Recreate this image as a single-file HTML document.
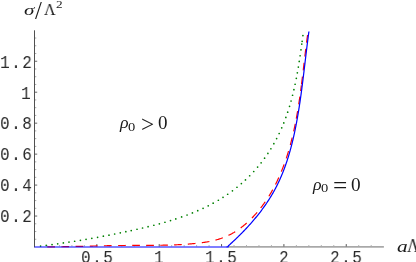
<!DOCTYPE html>
<html><head><meta charset="utf-8"><title>plot</title>
<style>
html,body{margin:0;padding:0;background:#fff;}
body{width:416px;height:262px;overflow:hidden;position:relative;}
.m{will-change:transform;position:absolute;font-family:"Liberation Mono",monospace;font-size:18.0px;letter-spacing:1.67px;line-height:1;color:#2a2a2a;white-space:pre;transform:scaleX(0.89);transform-origin:0 0;}
.g{will-change:transform;position:absolute;font-family:"Liberation Serif",serif;line-height:1;white-space:pre;transform-origin:0 0;color:#1a1a1a;}
#c{position:absolute;left:0;top:0;width:416px;height:262px;overflow:hidden;background:#fff;}
</style></head><body>
<div id="c">
<svg width="416" height="262" viewBox="0 0 416 262" style="position:absolute;left:0;top:0">
<rect x="34" y="30.3" width="1" height="217.10" fill="#505050"/>
<rect x="228" y="246.25" width="155.90" height="1.3" fill="#8c8c8c"/>
<rect x="35" y="238.76" width="1.3" height="1" fill="#aaa"/>
<rect x="35" y="231.02" width="1.3" height="1" fill="#aaa"/>
<rect x="35" y="223.28" width="1.3" height="1" fill="#aaa"/>
<rect x="35" y="215.54" width="2.2" height="1" fill="#666"/>
<rect x="35" y="207.80" width="1.3" height="1" fill="#aaa"/>
<rect x="35" y="200.06" width="1.3" height="1" fill="#aaa"/>
<rect x="35" y="192.32" width="1.3" height="1" fill="#aaa"/>
<rect x="35" y="184.58" width="2.2" height="1" fill="#666"/>
<rect x="35" y="176.84" width="1.3" height="1" fill="#aaa"/>
<rect x="35" y="169.10" width="1.3" height="1" fill="#aaa"/>
<rect x="35" y="161.36" width="1.3" height="1" fill="#aaa"/>
<rect x="35" y="153.62" width="2.2" height="1" fill="#666"/>
<rect x="35" y="145.88" width="1.3" height="1" fill="#aaa"/>
<rect x="35" y="138.14" width="1.3" height="1" fill="#aaa"/>
<rect x="35" y="130.40" width="1.3" height="1" fill="#aaa"/>
<rect x="35" y="122.66" width="2.2" height="1" fill="#666"/>
<rect x="35" y="114.92" width="1.3" height="1" fill="#aaa"/>
<rect x="35" y="107.18" width="1.3" height="1" fill="#aaa"/>
<rect x="35" y="99.44" width="1.3" height="1" fill="#aaa"/>
<rect x="35" y="91.70" width="2.2" height="1" fill="#666"/>
<rect x="35" y="83.96" width="1.3" height="1" fill="#aaa"/>
<rect x="35" y="76.22" width="1.3" height="1" fill="#aaa"/>
<rect x="35" y="68.48" width="1.3" height="1" fill="#aaa"/>
<rect x="35" y="60.74" width="2.2" height="1" fill="#666"/>
<rect x="35" y="53.00" width="1.3" height="1" fill="#aaa"/>
<rect x="35" y="45.26" width="1.3" height="1" fill="#aaa"/>
<rect x="35" y="37.52" width="1.3" height="1" fill="#aaa"/>
<rect x="46.47" y="245.10" width="1" height="1.3" fill="#aaa"/>
<rect x="58.94" y="245.10" width="1" height="1.3" fill="#aaa"/>
<rect x="71.41" y="245.10" width="1" height="1.3" fill="#aaa"/>
<rect x="83.88" y="245.10" width="1" height="1.3" fill="#aaa"/>
<rect x="96.35" y="244.10" width="1" height="2.4" fill="#555"/>
<rect x="108.82" y="245.10" width="1" height="1.3" fill="#aaa"/>
<rect x="121.29" y="245.10" width="1" height="1.3" fill="#aaa"/>
<rect x="133.76" y="245.10" width="1" height="1.3" fill="#aaa"/>
<rect x="146.23" y="245.10" width="1" height="1.3" fill="#aaa"/>
<rect x="158.70" y="244.10" width="1" height="2.4" fill="#555"/>
<rect x="171.17" y="245.10" width="1" height="1.3" fill="#aaa"/>
<rect x="183.64" y="245.10" width="1" height="1.3" fill="#aaa"/>
<rect x="196.11" y="245.10" width="1" height="1.3" fill="#aaa"/>
<rect x="208.58" y="245.10" width="1" height="1.3" fill="#aaa"/>
<rect x="221.05" y="244.10" width="1" height="2.4" fill="#555"/>
<rect x="233.52" y="245.10" width="1" height="1.3" fill="#aaa"/>
<rect x="245.99" y="245.10" width="1" height="1.3" fill="#aaa"/>
<rect x="258.46" y="245.10" width="1" height="1.3" fill="#aaa"/>
<rect x="270.93" y="245.10" width="1" height="1.3" fill="#aaa"/>
<rect x="283.40" y="244.10" width="1" height="2.4" fill="#555"/>
<rect x="295.87" y="245.10" width="1" height="1.3" fill="#aaa"/>
<rect x="308.34" y="245.10" width="1" height="1.3" fill="#aaa"/>
<rect x="320.81" y="245.10" width="1" height="1.3" fill="#aaa"/>
<rect x="333.28" y="245.10" width="1" height="1.3" fill="#aaa"/>
<rect x="345.75" y="244.10" width="1" height="2.4" fill="#555"/>
<rect x="358.22" y="245.10" width="1" height="1.3" fill="#aaa"/>
<rect x="370.69" y="245.10" width="1" height="1.3" fill="#aaa"/>
<circle cx="40.58" cy="246.09" r="0.85" fill="#008000"/>
<circle cx="46.25" cy="245.37" r="0.85" fill="#008000"/>
<circle cx="52.03" cy="244.59" r="0.85" fill="#008000"/>
<circle cx="57.69" cy="243.80" r="0.85" fill="#008000"/>
<circle cx="63.34" cy="242.97" r="0.85" fill="#008000"/>
<circle cx="68.99" cy="242.12" r="0.85" fill="#008000"/>
<circle cx="74.64" cy="241.23" r="0.85" fill="#008000"/>
<circle cx="80.41" cy="240.29" r="0.85" fill="#008000"/>
<circle cx="86.05" cy="239.34" r="0.85" fill="#008000"/>
<circle cx="91.81" cy="238.33" r="0.85" fill="#008000"/>
<circle cx="97.58" cy="237.29" r="0.85" fill="#008000"/>
<circle cx="103.35" cy="236.21" r="0.85" fill="#008000"/>
<circle cx="108.99" cy="235.13" r="0.85" fill="#008000"/>
<circle cx="114.64" cy="234.01" r="0.85" fill="#008000"/>
<circle cx="120.29" cy="232.86" r="0.85" fill="#008000"/>
<circle cx="125.82" cy="231.70" r="0.85" fill="#008000"/>
<circle cx="131.22" cy="230.53" r="0.85" fill="#008000"/>
<circle cx="137.01" cy="229.25" r="0.85" fill="#008000"/>
<circle cx="142.55" cy="227.99" r="0.85" fill="#008000"/>
<circle cx="148.08" cy="226.67" r="0.85" fill="#008000"/>
<circle cx="153.85" cy="225.23" r="0.85" fill="#008000"/>
<circle cx="159.35" cy="223.79" r="0.85" fill="#008000"/>
<circle cx="164.94" cy="222.23" r="0.85" fill="#008000"/>
<circle cx="170.51" cy="220.59" r="0.85" fill="#008000"/>
<circle cx="175.79" cy="218.94" r="0.85" fill="#008000"/>
<circle cx="181.63" cy="216.97" r="0.85" fill="#008000"/>
<circle cx="187.06" cy="215.01" r="0.85" fill="#008000"/>
<circle cx="192.42" cy="212.93" r="0.85" fill="#008000"/>
<circle cx="197.72" cy="210.72" r="0.85" fill="#008000"/>
<circle cx="203.06" cy="208.31" r="0.85" fill="#008000"/>
<circle cx="208.21" cy="205.80" r="0.85" fill="#008000"/>
<circle cx="213.16" cy="203.20" r="0.85" fill="#008000"/>
<circle cx="218.36" cy="200.24" r="0.85" fill="#008000"/>
<circle cx="223.01" cy="197.37" r="0.85" fill="#008000"/>
<circle cx="227.68" cy="194.25" r="0.85" fill="#008000"/>
<circle cx="232.44" cy="190.81" r="0.85" fill="#008000"/>
<circle cx="236.98" cy="187.27" r="0.85" fill="#008000"/>
<circle cx="241.38" cy="183.57" r="0.85" fill="#008000"/>
<circle cx="245.46" cy="179.88" r="0.85" fill="#008000"/>
<circle cx="249.68" cy="175.77" r="0.85" fill="#008000"/>
<circle cx="253.72" cy="171.52" r="0.85" fill="#008000"/>
<circle cx="257.60" cy="167.12" r="0.85" fill="#008000"/>
<circle cx="261.13" cy="162.78" r="0.85" fill="#008000"/>
<circle cx="264.57" cy="158.21" r="0.85" fill="#008000"/>
<circle cx="267.89" cy="153.42" r="0.85" fill="#008000"/>
<circle cx="270.89" cy="148.73" r="0.85" fill="#008000"/>
<circle cx="273.85" cy="143.71" r="0.85" fill="#008000"/>
<circle cx="276.63" cy="138.59" r="0.85" fill="#008000"/>
<circle cx="279.17" cy="133.48" r="0.85" fill="#008000"/>
<circle cx="281.74" cy="127.83" r="0.85" fill="#008000"/>
<circle cx="283.78" cy="122.90" r="0.85" fill="#008000"/>
<circle cx="285.86" cy="117.43" r="0.85" fill="#008000"/>
<circle cx="287.69" cy="112.13" r="0.85" fill="#008000"/>
<circle cx="289.54" cy="106.28" r="0.85" fill="#008000"/>
<circle cx="291.06" cy="100.98" r="0.85" fill="#008000"/>
<circle cx="292.56" cy="95.27" r="0.85" fill="#008000"/>
<circle cx="293.91" cy="89.64" r="0.85" fill="#008000"/>
<circle cx="295.10" cy="84.23" r="0.85" fill="#008000"/>
<circle cx="296.31" cy="78.28" r="0.85" fill="#008000"/>
<circle cx="297.33" cy="72.82" r="0.85" fill="#008000"/>
<circle cx="298.33" cy="67.09" r="0.85" fill="#008000"/>
<circle cx="299.24" cy="61.47" r="0.85" fill="#008000"/>
<circle cx="300.12" cy="55.73" r="0.85" fill="#008000"/>
<circle cx="300.97" cy="49.86" r="0.85" fill="#008000"/>
<circle cx="301.76" cy="44.12" r="0.85" fill="#008000"/>
<circle cx="302.14" cy="41.33" r="0.85" fill="#008000"/>
<circle cx="302.91" cy="35.62" r="0.85" fill="#008000"/>
<path d="M47.30,246.90 L48.00,246.90 L48.70,246.90 L49.40,246.89 L50.10,246.89 L50.80,246.88 L51.50,246.88 L52.20,246.87 L52.90,246.86 L53.60,246.86 L54.30,246.85 L55.00,246.84 M61.40,246.75 L62.10,246.74 L62.80,246.73 L63.50,246.71 L64.20,246.70 L64.90,246.69 L65.60,246.67 L66.30,246.66 L67.00,246.65 L67.70,246.63 L68.40,246.62 L69.10,246.60 M75.60,246.46 L76.30,246.44 L77.00,246.43 L77.70,246.41 L78.40,246.39 L79.10,246.38 L79.80,246.36 L80.50,246.34 L81.20,246.33 L81.90,246.31 L82.60,246.29 L83.30,246.27 M89.80,246.11 L90.50,246.09 L91.20,246.08 L91.90,246.06 L92.60,246.04 L93.30,246.03 L94.00,246.01 L94.70,245.99 L95.40,245.97 L96.10,245.96 L96.80,245.94 L97.50,245.92 M103.90,245.78 L104.60,245.77 L105.30,245.75 L106.00,245.74 L106.70,245.72 L107.40,245.71 L108.10,245.70 L108.80,245.68 L109.50,245.67 L110.20,245.66 L110.90,245.64 L111.60,245.63 M118.10,245.53 L118.80,245.53 L119.50,245.52 L120.20,245.51 L120.90,245.50 L121.60,245.50 L122.30,245.49 L123.00,245.48 L123.70,245.48 L124.40,245.47 L125.10,245.47 L125.80,245.46 M132.20,245.43 L132.90,245.43 L133.60,245.43 L134.30,245.43 L135.00,245.43 L135.70,245.42 L136.40,245.42 L137.10,245.42 L137.80,245.42 L138.50,245.42 L139.20,245.42 L139.90,245.41 M146.20,245.39 L146.90,245.39 L147.60,245.39 L148.30,245.38 L149.00,245.38 L149.70,245.37 L150.40,245.37 L151.10,245.37 L151.80,245.36 L152.50,245.35 L153.20,245.35 L153.90,245.34 M160.20,245.26 L160.90,245.25 L161.60,245.24 L162.30,245.22 L163.00,245.21 L163.70,245.19 L164.40,245.18 L165.10,245.16 L165.80,245.15 L166.50,245.13 L167.20,245.11 L167.90,245.09 M174.10,244.88 L174.80,244.85 L175.50,244.82 L176.20,244.79 L176.90,244.76 L177.60,244.73 L178.30,244.69 L178.99,244.66 L179.69,244.62 L180.39,244.58 L181.09,244.55 L181.79,244.51 M187.80,244.11 L188.50,244.06 L189.20,244.00 L189.89,243.95 L190.59,243.89 L191.29,243.83 L191.99,243.77 L192.68,243.71 L193.38,243.65 L194.08,243.58 L194.77,243.52 L195.47,243.45 M201.80,242.71 L202.49,242.61 L203.19,242.51 L203.88,242.41 L204.57,242.31 L205.26,242.20 L205.95,242.09 L206.64,241.97 L207.33,241.85 L208.02,241.72 L208.71,241.60 L209.40,241.46 M215.50,240.07 L216.18,239.89 L216.85,239.71 L217.52,239.51 L218.20,239.32 L218.87,239.11 L219.53,238.90 L220.20,238.69 L220.86,238.47 L221.53,238.24 L222.19,238.01 L222.84,237.77 M228.50,235.38 L229.13,235.07 L229.76,234.76 L230.38,234.44 L231.00,234.12 L231.62,233.78 L232.23,233.45 L232.84,233.10 L233.44,232.75 L234.05,232.40 L234.65,232.03 L235.24,231.67 M240.70,227.93 L241.26,227.50 L241.81,227.08 L242.37,226.65 L242.92,226.21 L243.46,225.77 L244.00,225.33 L244.54,224.88 L245.08,224.43 L245.61,223.98 L246.14,223.52 L246.66,223.06 M251.96,218.00 L252.45,217.50 L252.93,216.99 L253.41,216.48 L253.89,215.97 L254.36,215.46 L254.84,214.94 L255.31,214.42 L255.77,213.90 L256.24,213.38 L256.69,212.85 L257.15,212.32 M260.68,208.00 L261.11,207.45 L261.54,206.89 L261.96,206.33 L262.38,205.77 L262.80,205.21 L263.21,204.65 L263.62,204.08 L264.03,203.51 L264.44,202.94 L264.84,202.37 L265.24,201.79 M268.84,196.30 L269.21,195.70 L269.57,195.11 L269.94,194.51 L270.30,193.91 L270.65,193.31 L271.01,192.70 L271.36,192.10 L271.71,191.49 L272.05,190.88 L272.39,190.27 L272.73,189.66 M275.51,184.40 L275.83,183.77 L276.14,183.15 L276.45,182.52 L276.75,181.89 L277.06,181.26 L277.36,180.63 L277.66,179.99 L277.95,179.36 L278.25,178.72 L278.54,178.09 L278.83,177.45 M281.34,171.60 L281.60,170.95 L281.86,170.30 L282.12,169.65 L282.38,169.00 L282.64,168.35 L282.89,167.70 L283.14,167.04 L283.39,166.39 L283.63,165.73 L283.88,165.08 L284.12,164.42 M286.22,158.40 L286.45,157.74 L286.66,157.07 L286.88,156.41 L287.10,155.74 L287.31,155.07 L287.52,154.40 L287.73,153.74 L287.94,153.07 L288.14,152.40 L288.35,151.73 L288.55,151.06 M290.28,145.00 L290.47,144.32 L290.65,143.65 L290.83,142.97 L291.01,142.30 L291.19,141.62 L291.36,140.94 L291.53,140.26 L291.71,139.58 L291.88,138.91 L292.05,138.23 L292.21,137.55 M293.66,131.40 L293.81,130.72 L293.96,130.03 L294.11,129.35 L294.26,128.67 L294.40,127.98 L294.55,127.30 L294.69,126.61 L294.84,125.93 L294.98,125.24 L295.12,124.55 L295.26,123.87 M296.26,118.70 L296.39,118.01 L296.51,117.32 L296.64,116.63 L296.76,115.95 L296.89,115.26 L297.01,114.57 L297.13,113.88 L297.25,113.19 L297.37,112.50 L297.49,111.81 L297.61,111.12 M298.71,104.30 L298.82,103.61 L298.92,102.92 L299.03,102.22 L299.13,101.53 L299.24,100.84 L299.34,100.15 L299.44,99.45 L299.54,98.76 L299.64,98.07 L299.74,97.38 L299.84,96.68 M300.63,91.00 L300.70,90.50 L300.76,89.99 L300.83,89.49 L300.90,88.98 L300.96,88.48 L301.03,87.97 L301.10,87.47 L301.16,86.96 L301.23,86.46 L301.29,85.95 L301.36,85.45 M301.50,84.30 L301.59,83.61 L301.68,82.91 L301.77,82.22 L301.85,81.52 L301.94,80.83 L302.03,80.13 L302.11,79.44 L302.20,78.74 L302.28,78.05 L302.37,77.35 L302.45,76.66 M303.21,70.40 L303.29,69.70 L303.37,69.01 L303.45,68.31 L303.53,67.62 L303.62,66.92 L303.70,66.23 L303.78,65.53 L303.86,64.84 L303.94,64.14 L304.03,63.45 L304.11,62.75 M304.85,56.50 L304.93,55.80 L305.01,55.11 L305.10,54.41 L305.18,53.72 L305.26,53.02 L305.35,52.33 L305.43,51.63 L305.52,50.94 L305.60,50.25 L305.69,49.55 L305.77,48.86 M306.55,42.60 L306.64,41.91 L306.73,41.21 L306.82,40.52 L306.91,39.82 L307.00,39.13 L307.09,38.44 L307.19,37.74 L307.28,37.05 L307.37,36.35 L307.47,35.66 L307.56,34.97" fill="none" stroke="#ff0000" stroke-width="1.18"/>
<path d="M34.5,246.95 L227.6,246.95" fill="none" stroke="#0000ff" stroke-width="1.1"/>
<path d="M226.60,246.95 L228.05,246.95 L228.36,245.84 L229.05,245.21 L229.75,244.59 L230.44,243.96 L231.14,243.32 L231.83,242.69 L232.52,242.05 L233.21,241.41 L233.90,240.77 L234.59,240.12 L235.27,239.47 L235.95,238.82 L236.64,238.17 L237.32,237.51 L238.00,236.85 L238.67,236.19 L239.35,235.52 L240.02,234.85 L240.69,234.18 L241.36,233.51 L242.03,232.83 L242.69,232.16 L243.36,231.47 L244.02,230.79 L244.68,230.10 L245.33,229.41 L245.99,228.72 L246.64,228.02 L247.29,227.33 L247.93,226.62 L248.58,225.92 L249.22,225.21 L249.85,224.51 L250.49,223.79 L251.12,223.08 L251.75,222.36 L252.38,221.64 L253.00,220.92 L253.62,220.19 L254.24,219.46 L254.85,218.73 L255.46,218.00 L256.07,217.26 L256.67,216.52 L257.27,215.78 L257.87,215.03 L258.46,214.29 L259.05,213.53 L259.63,212.78 L260.22,212.03 L260.79,211.27 L261.37,210.51 L261.94,209.74 L262.50,208.97 L263.07,208.21 L263.62,207.43 L264.18,206.66 L264.73,205.88 L265.27,205.10 L265.81,204.32 L266.35,203.53 L266.88,202.75 L267.41,201.96 L267.93,201.16 L268.45,200.37 L268.96,199.57 L269.47,198.77 L269.98,197.96 L270.47,197.16 L270.97,196.35 L271.46,195.54 L271.94,194.73 L272.42,193.91 L272.89,193.09 L273.36,192.27 L273.82,191.45 L274.28,190.62 L274.73,189.79 L275.18,188.96 L275.62,188.13 L276.06,187.29 L276.49,186.45 L276.91,185.61 L277.33,184.77 L277.75,183.92 L278.16,183.07 L278.57,182.22 L278.97,181.37 L279.36,180.52 L279.75,179.66 L280.14,178.80 L280.52,177.94 L280.89,177.08 L281.27,176.21 L281.63,175.35 L281.99,174.48 L282.35,173.61 L282.71,172.73 L283.05,171.86 L283.40,170.98 L283.74,170.10 L284.07,169.22 L284.40,168.34 L284.73,167.46 L285.05,166.57 L285.37,165.68 L285.69,164.80 L286.00,163.90 L286.30,163.01 L286.61,162.12 L286.91,161.22 L287.20,160.33 L287.49,159.43 L287.78,158.53 L288.06,157.63 L288.34,156.72 L288.62,155.82 L288.89,154.91 L289.16,154.00 L289.43,153.10 L289.69,152.19 L289.95,151.28 L290.20,150.36 L290.45,149.45 L290.70,148.54 L290.95,147.62 L291.19,146.70 L291.43,145.78 L291.67,144.87 L291.90,143.95 L292.13,143.02 L292.36,142.10 L292.58,141.18 L292.80,140.26 L293.02,139.33 L293.24,138.40 L293.45,137.48 L293.66,136.55 L293.87,135.62 L294.08,134.69 L294.28,133.76 L294.48,132.83 L294.68,131.90 L294.88,130.97 L295.07,130.04 L295.26,129.11 L295.45,128.17 L295.64,127.24 L295.82,126.30 L296.00,125.37 L296.18,124.43 L296.36,123.50 L296.54,122.56 L296.71,121.63 L296.89,120.69 L297.06,119.75 L297.23,118.81 L297.39,117.87 L297.56,116.94 L297.72,116.00 L297.88,115.06 L298.04,114.12 L298.20,113.18 L298.36,112.24 L298.51,111.30 L298.67,110.36 L298.82,109.41 L298.97,108.47 L299.12,107.53 L299.26,106.59 L299.41,105.65 L299.55,104.70 L299.70,103.76 L299.84,102.82 L299.98,101.87 L300.12,100.93 L300.26,99.99 L300.39,99.04 L300.53,98.10 L300.66,97.16 L300.79,96.21 L300.93,95.27 L301.06,94.32 L301.19,93.38 L301.32,92.43 L301.44,91.49 L301.57,90.54 L301.70,89.60 L301.82,88.65 L301.94,87.71 L302.07,86.77 L302.19,85.82 L302.31,84.88 L302.43,83.93 L302.55,82.99 L302.67,82.04 L302.79,81.10 L302.91,80.15 L303.02,79.21 L303.14,78.26 L303.26,77.32 L303.37,76.37 L303.49,75.43 L303.60,74.49 L303.72,73.54 L303.83,72.60 L303.95,71.65 L304.06,70.71 L304.17,69.77 L304.28,68.83 L304.40,67.88 L304.51,66.94 L304.62,66.00 L304.73,65.06 L304.85,64.11 L304.96,63.17 L305.07,62.23 L305.18,61.29 L305.29,60.35 L305.41,59.41 L305.52,58.47 L305.63,57.53 L305.74,56.59 L305.85,55.65 L305.97,54.71 L306.08,53.77 L306.19,52.84 L306.31,51.90 L306.42,50.96 L306.53,50.03 L306.65,49.09 L306.76,48.15 L306.88,47.22 L306.99,46.28 L307.11,45.35 L307.23,44.42 L307.34,43.48 L307.46,42.55 L307.58,41.62 L307.70,40.69 L307.82,39.75 L307.94,38.82 L308.06,37.89 L308.18,36.96 L308.30,36.04 L308.43,35.11 L308.55,34.18 L308.68,33.25 L308.81,32.33 L308.92,31.52" fill="none" stroke="#0000ff" stroke-width="1.22" stroke-linejoin="miter"/>
</svg>
<span class="g" style="left:23.95px;top:2.95px;font-size:14.42px;font-style:italic;transform:scaleX(1.472)">σ</span>
<span class="g" style="left:35.04px;top:-1.03px;font-size:24.7px;font-style:normal;transform:scaleX(0.998)">/</span>
<span class="g" style="left:43.95px;top:1.0px;font-size:17.58px;font-style:normal;transform:scaleX(0.91)">Λ</span>
<span class="g" style="left:55.98px;top:-0.98px;font-size:10.92px;font-style:normal;transform:scaleX(1.213)">2</span>
<span class="g" style="left:397.02px;top:238.8px;font-size:16.87px;font-style:italic;transform:scaleX(1.268)">a</span>
<span class="g" style="left:406.97px;top:236.95px;font-size:18.18px;font-style:normal;transform:scaleX(0.911)">Λ</span>
<span class="g" style="left:119.97px;top:115.04px;font-size:16.32px;font-style:italic;transform:scaleX(1.095)">ρ</span>
<span class="g" style="left:128.01px;top:120.99px;font-size:12.09px;font-style:normal;transform:scaleX(1.201)">0</span>
<span class="g" style="left:140.96px;top:112.95px;font-size:23.33px;font-style:normal;transform:scaleX(0.985)">&gt;</span>
<span class="g" style="left:158.0px;top:114.01px;font-size:18.36px;font-style:normal;transform:scaleX(1.038)">0</span>
<span class="g" style="left:312.94px;top:177.09px;font-size:16.76px;font-style:italic;transform:scaleX(1.066)">ρ</span>
<span class="g" style="left:320.98px;top:183.02px;font-size:11.79px;font-style:normal;transform:scaleX(1.232)">0</span>
<span class="g" style="left:332.97px;top:175.0px;font-size:22.8px;font-style:normal;transform:scaleX(1.11)">=</span>
<span class="g" style="left:351.02px;top:175.99px;font-size:18.51px;font-style:normal;transform:scaleX(1.042)">0</span>
<div class="m" style="left:0px;top:54px">1.2</div>
<div class="m" style="left:21px;top:85px">1</div>
<div class="m" style="left:0px;top:115px">0.8</div>
<div class="m" style="left:0px;top:146px">0.6</div>
<div class="m" style="left:0px;top:177px">0.4</div>
<div class="m" style="left:0px;top:208px">0.2</div>
<div class="m" style="left:81px;top:249px">0.5</div>
<div class="m" style="left:154px;top:249px">1</div>
<div class="m" style="left:205px;top:249px">1.5</div>
<div class="m" style="left:279px;top:249px">2</div>
<div class="m" style="left:330px;top:249px">2.5</div>
</div>
</body></html>
